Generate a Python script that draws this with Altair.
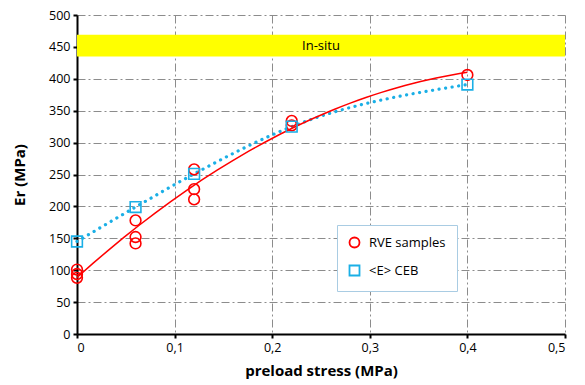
import altair as alt
import pandas as pd

# RVE samples (circles)
rve_x = [0, 0, 0, 0.06, 0.06, 0.06, 0.12, 0.12, 0.12, 0.22, 0.22, 0.4]
rve_y = [101, 94, 88, 178, 152, 142, 258, 227, 211, 334, 327, 406]

# <E> CEB (squares)
ceb_x = [0, 0.06, 0.12, 0.22, 0.4]
ceb_y = [145, 199, 251, 325, 391]

# In-situ band
band_x = [0, 0.5]
band_y = [435, 469]
band_label = "In-situ"

# axis ticks
x_ticks = [0, 0.1, 0.2, 0.3, 0.4, 0.5]
y_ticks = [0, 50, 100, 150, 200, 250, 300, 350, 400, 450, 500]

series_names = ["RVE samples", "<E> CEB"]

pts = pd.DataFrame({
    "x": rve_x + ceb_x,
    "y": rve_y + ceb_y,
    "series": [series_names[0]] * len(rve_x) + [series_names[1]] * len(ceb_x),
})
rve = pd.DataFrame({"x": rve_x, "y": rve_y})
ceb = pd.DataFrame({"x": ceb_x, "y": ceb_y})
band = pd.DataFrame({"x": [band_x[0]], "x2": [band_x[1]], "y": [band_y[0]], "y2": [band_y[1]],
                     "xm": [(band_x[0] + band_x[1]) / 2], "ym": [(band_y[0] + band_y[1]) / 2],
                     "label": [band_label]})

FONT = "Open Sans"
BLUE = "#1AAFE6"

xscale = alt.Scale(domain=[0, 0.5], nice=False, zero=False)
yscale = alt.Scale(domain=[0, 500], nice=False)

xaxis = alt.Axis(
    values=x_ticks,
    labelExpr="datum.value == 0 ? '0' : replace(format(datum.value, '.1f'), '.', ',')",
    title="preload stress (MPa)", labelOverlap=False,
)
yaxis = alt.Axis(values=y_ticks, title="Er (MPa)", labelOverlap=False)


def X(field):
    return alt.X(field, scale=xscale, axis=xaxis)


def Y(field):
    return alt.Y(field, scale=yscale, axis=yaxis)


band_rect = alt.Chart(band).mark_rect(color="#FFFF00").encode(
    x=X("x:Q"), x2="x2:Q", y=Y("y:Q"), y2="y2:Q",
)
band_text = alt.Chart(band).mark_text(font=FONT, fontSize=13, color="black").encode(
    x=X("xm:Q"), y=Y("ym:Q"), text="label:N"
)

fit = alt.Chart(rve).transform_regression(
    "x", "y", method="poly", order=2, extent=[0, 0.4]
).mark_line(color="red", strokeWidth=1.5).encode(x=X("x:Q"), y=Y("y:Q"))

ceb_line = alt.Chart(ceb).mark_line(
    color=BLUE, strokeWidth=3.2, strokeDash=[0.1, 6.5], strokeCap="round", interpolate="monotone"
).encode(x=X("x:Q"), y=Y("y:Q"))

points = alt.Chart(pts).mark_point(filled=False, strokeWidth=1.6, size=115, opacity=1).encode(
    x=X("x:Q"), y=Y("y:Q"),
    shape=alt.Shape("series:N", scale=alt.Scale(domain=series_names, range=["circle", "square"]),
                    legend=alt.Legend(title=None, orient="none", legendX=260, legendY=210)),
    color=alt.Color("series:N", scale=alt.Scale(domain=series_names, range=["red", BLUE]),
                    legend=alt.Legend(title=None, orient="none", legendX=260, legendY=210)),
)

chart = alt.layer(band_rect, band_text, ceb_line, fit, points).properties(
    width=488, height=319,
    autosize=alt.AutoSizeParams(type="none"),
    padding={"left": 69, "top": 7, "right": 12, "bottom": 55},
    background="white",
).configure_view(stroke=None).configure_axis(
    labelFont=FONT, titleFont=FONT, labelFontSize=12.5, titleFontSize=15,
    titleFontWeight="bold", labelColor="black", titleColor="black",
    domainColor="black", domainWidth=2, tickColor="black", tickWidth=2, tickSize=4,
    gridColor="#8C8C8C", gridWidth=1, gridDash=[8, 3, 2, 3],
    labelPadding=3,
).configure_axisX(titlePadding=10).configure_axisY(titlePadding=21).configure_legend(
    labelFont=FONT, labelFontSize=13, labelColor="black",
    fillColor="white", strokeColor="#A9CCE3", strokeWidth=1,
    padding=11, rowPadding=9, symbolSize=100, symbolStrokeWidth=1.8, symbolType="circle",
    labelOffset=8, symbolOpacity=1,
)

chart.save("out.html", embed_options={"renderer": "svg", "actions": False})
